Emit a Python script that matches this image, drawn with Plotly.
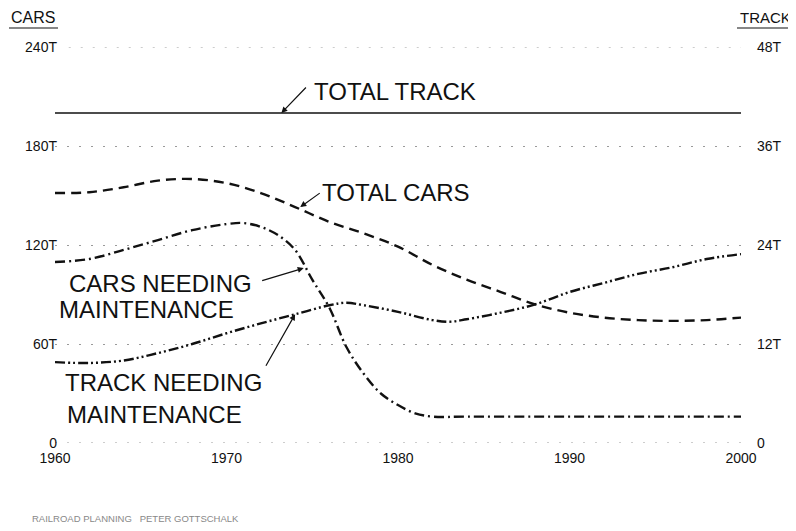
import plotly.graph_objects as go

# ---------------- data ----------------
years_track_total = [1960, 2000]
track_total = [40, 40]  # thousand miles of track (right axis)

years_cars = [1960, 1962, 1964, 1966, 1968, 1970, 1972, 1974, 1976, 1978, 1980,
              1982, 1984, 1986, 1988, 1990, 1992, 1994, 1996, 1998, 2000]
cars_total = [151.5, 152, 155, 159, 160, 157.5, 151.5, 143, 134, 127, 119,
              108, 99, 91.5, 84, 79, 76, 74.5, 74, 74.5, 76]

years_cars_maint = [1960, 1962, 1964, 1966, 1968, 1970, 1971, 1972, 1973, 1974, 1975,
                    1976, 1977, 1978, 1979, 1980, 1981, 1982, 1984, 1988, 1992, 1996, 2000]
cars_maint = [109.7, 111.5, 117, 123, 129, 132.7, 133.3, 131, 126, 117, 99,
              82, 58, 42, 30, 23, 18, 16, 16, 16, 16, 16, 16]

years_track_maint = [1960, 1962, 1964, 1966, 1968, 1970, 1972, 1974, 1976, 1977, 1978,
                     1980, 1982, 1983, 1984, 1986, 1988, 1990, 1992, 1994, 1996, 1998, 2000]
track_maint = [9.8, 9.7, 10.0, 10.9, 12.0, 13.3, 14.5, 15.6, 16.7, 17.0, 16.7,
               15.9, 14.9, 14.7, 15.0, 15.8, 16.8, 18.3, 19.4, 20.5, 21.3, 22.3, 22.9]

x_ticks = [1960, 1970, 1980, 1990, 2000]
left_ticks = [0, 60, 120, 180, 240]
left_labels = ["0", "60T", "120T", "180T", "240T"]
right_ticks = [0, 12, 24, 36, 48]
right_labels = ["0", "12T", "24T", "36T", "48T"]

# ---------------- layout geometry (page pixels) ----------------
OFF = 8                      # default body margin of the html page
PAGE_W, PAGE_H = 796, 531
W, H = PAGE_W - OFF, PAGE_H - OFF
PLOT_L, PLOT_R, PLOT_T, PLOT_B = 55, 741, 47, 443   # plot box in page pixels
L, T = PLOT_L - OFF, PLOT_T - OFF
R, B = W + OFF - PLOT_R, H + OFF - PLOT_B
PW, PH = PLOT_R - PLOT_L, PLOT_B - PLOT_T
FONT = "Liberation Sans"


def px(xp):
    return (xp - PLOT_L) / PW


def py(yp):
    return (PLOT_B - yp) / PH


fig = go.Figure()
ink = "#111111"

fig.add_trace(go.Scatter(x=years_track_total, y=track_total, yaxis="y2", mode="lines",
                         line=dict(color=ink, width=1.6), hoverinfo="skip"))
fig.add_trace(go.Scatter(x=years_cars, y=cars_total, mode="lines", line_shape="spline",
                         line=dict(color=ink, width=2.4, dash="10px,6px"), hoverinfo="skip"))
fig.add_trace(go.Scatter(x=years_cars_maint, y=cars_maint, mode="lines", line_shape="spline",
                         line=dict(color=ink, width=2.4, dash="10px,4px,2px,4px"), hoverinfo="skip"))
fig.add_trace(go.Scatter(x=years_track_maint, y=track_maint, yaxis="y2", mode="lines",
                         line_shape="spline",
                         line=dict(color=ink, width=2.4, dash="10px,3px,2px,3px,2px,3px"),
                         hoverinfo="skip"))

annotations = []


def label(text, left, cy, size=24):
    annotations.append(dict(text=text, xref="paper", yref="paper", x=px(left), y=py(cy),
                            xanchor="left", yanchor="middle", showarrow=False,
                            font=dict(family=FONT, size=size, color=ink)))


def arrow(head_year, head_val, dx, dy, yref="y"):
    annotations.append(dict(text="", x=head_year, y=head_val, xref="x", yref=yref,
                            ax=dx, ay=dy, axref="pixel", ayref="pixel", showarrow=True,
                            arrowhead=2, arrowsize=1, arrowwidth=1.2, arrowcolor=ink))


label("TOTAL TRACK", 312, 91)
label("TOTAL CARS", 320, 192)
label("CARS NEEDING", 67, 283)
label("MAINTENANCE", 57, 309)
label("TRACK NEEDING", 63, 382)
label("MAINTENANCE", 65, 414)

arrow(1973.2, 40, 26, -27, "y2")
arrow(1974.3, 143, 21, -15)
arrow(1974.5, 106, -43, 13)
arrow(1974.0, 15.6, -30, 53, "y2")

# axis titles
annotations.append(dict(text="CARS", xref="paper", yref="paper", x=px(9), y=py(18),
                        xanchor="left", yanchor="middle", showarrow=False,
                        font=dict(family=FONT, size=16, color=ink)))
annotations.append(dict(text="TRACK", xref="paper", yref="paper", x=px(793), y=py(18),
                        xanchor="right", yanchor="middle", showarrow=False,
                        font=dict(family=FONT, size=15, color=ink)))
# footer
annotations.append(dict(text="RAILROAD PLANNING   PETER GOTTSCHALK", xref="paper", yref="paper",
                        x=px(30), y=py(519), xanchor="left", yanchor="middle", showarrow=False,
                        font=dict(family=FONT, size=9.5, color="#888888")))

grid_line = dict(color="#9a9a9a", width=1, dash="2px,10px")
shapes = [
    dict(type="line", xref="paper", yref="paper", x0=px(9), x1=px(58), y0=py(28), y1=py(28),
         line=dict(color=ink, width=1.2)),
    dict(type="line", xref="paper", yref="paper", x0=px(737), x1=px(793), y0=py(28), y1=py(28),
         line=dict(color=ink, width=1.2)),
    dict(type="line", xref="paper", yref="y", x0=0, x1=1, y0=0, y1=0, line=grid_line, layer="below"),
    dict(type="line", xref="paper", yref="y", x0=0.02, x1=1, y0=240, y1=240, line=grid_line,
         layer="below"),
]

fig.update_layout(
    width=W, height=H, autosize=False,
    margin=dict(l=L, r=R, t=T, b=B, pad=0),
    paper_bgcolor="white", plot_bgcolor="white",
    showlegend=False,
    font=dict(family=FONT, size=14, color=ink),
    xaxis=dict(range=[1960, 2000], tickvals=x_ticks, ticktext=[str(v) for v in x_ticks],
               showgrid=False, zeroline=False, showline=False, ticks="",
               ticklabelstandoff=5, tickfont=dict(size=14)),
    yaxis=dict(range=[0, 240], tickvals=left_ticks, ticktext=left_labels,
               showgrid=True, gridcolor="#9a9a9a", gridwidth=1, griddash="2px,10px",
               zeroline=False, showline=False, ticks="", ticklabelstandoff=-3,
               tickfont=dict(size=14)),
    yaxis2=dict(range=[0, 48], overlaying="y", side="right", tickvals=right_ticks,
                ticktext=right_labels, showgrid=False, zeroline=False, showline=False,
                ticks="", ticklabelstandoff=15, tickfont=dict(size=14)),
    annotations=annotations,
    shapes=shapes,
)

fig.write_html("out.html")
